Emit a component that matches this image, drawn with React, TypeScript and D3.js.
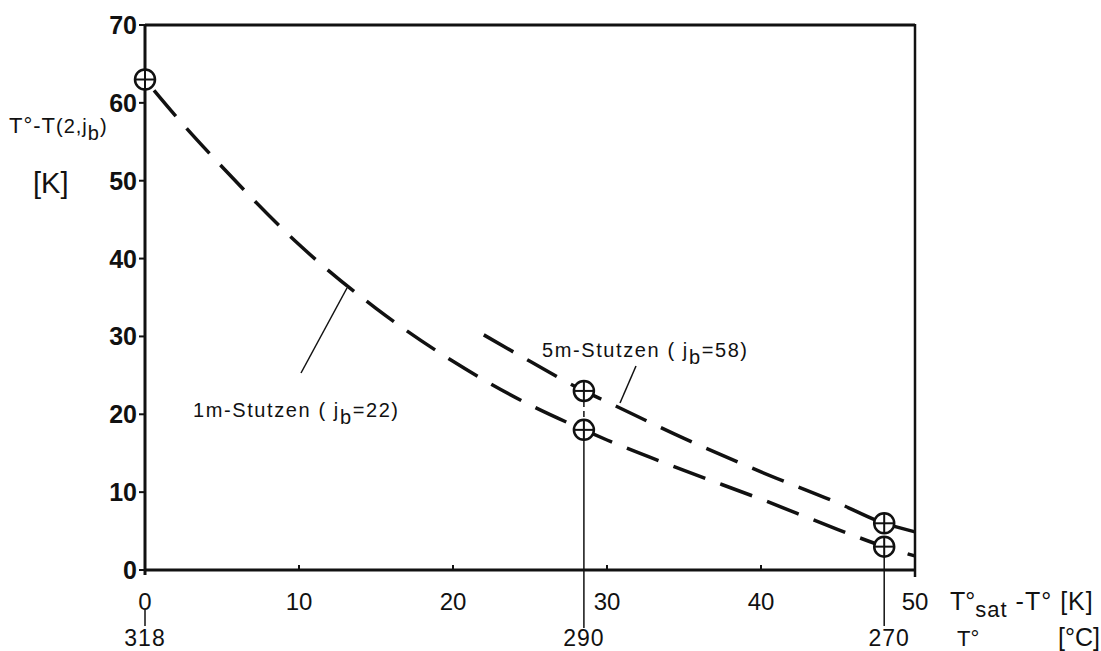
import React from "react";
import * as d3 from "d3";

const xTicks = [0, 10, 20, 30, 40, 50];
const yTicks = [0, 10, 20, 30, 40, 50, 60, 70];
const tempTicks = [
  { x: 0, label: "318" },
  { x: 28.5, label: "290" },
  { x: 48, label: "270" },
];
const series1m: [number, number][] = [
  [0, 63], [2, 58.3], [5, 51.8], [10, 41.8], [15, 33.6], [20, 26.8], [25, 21.2],
  [28.5, 18], [30, 16.7], [35, 12.8], [40, 9.1], [45, 5.2], [48, 3], [50, 1.8],
];
const series5m: [number, number][] = [
  [22, 30.2], [25, 26.8], [28.5, 23], [30, 21.6], [35, 16.9], [40, 12.6], [45, 8.6], [48, 6], [50, 4.9],
];
const markers: [number, number][] = [[0, 63], [28.5, 23], [28.5, 18], [48, 6], [48, 3]];

const W = 1101, H = 651;
const FONT = "'Liberation Sans', Arial, sans-serif";

export default function App() {
  const x = d3.scaleLinear().domain([0, 50]).range([145, 915]);
  const y = d3.scaleLinear().domain([0, 70]).range([570, 25]);
  const line = d3.line<[number, number]>().x(d => x(d[0])).y(d => y(d[1])).curve(d3.curveMonotoneX);
  const stroke = "#111";
  return (
    <svg width={W} height={H} style={{ position: "absolute", left: 0, top: 0, background: "#fff" }} fontFamily={FONT}>
      <rect width={W} height={H} fill="#fff" />
      {/* frame */}
      <line x1={x(0)} y1={y(70)} x2={x(50)} y2={y(70)} stroke={stroke} strokeWidth={3} />
      <line x1={x(0)} y1={y(70) - 1} x2={x(0)} y2={y(0) + 5} stroke={stroke} strokeWidth={3} />
      <line x1={x(50)} y1={y(70) - 1} x2={x(50)} y2={y(0) + 7} stroke={stroke} strokeWidth={2.5} />
      <line x1={x(0)} y1={y(0)} x2={x(50)} y2={y(0)} stroke={stroke} strokeWidth={3} />
      {/* y ticks */}
      {yTicks.map(t => (
        <g key={"y" + t}>
          <line x1={x(0) - 6} x2={x(0)} y1={y(t)} y2={y(t)} stroke={stroke} strokeWidth={2} />
          <text x={x(0) - 8} y={y(t)} dy="0.36em" textAnchor="end" fontSize={25} fontWeight={700} fill={stroke}>{t}</text>
        </g>
      ))}
      {/* x ticks */}
      {xTicks.map(t => (
        <g key={"x" + t}>
          {t > 0 && t < 50 && <line x1={x(t)} x2={x(t)} y1={y(0) - 5} y2={y(0)} stroke={stroke} strokeWidth={2} />}
          <text x={x(t)} y={y(0) + 40} textAnchor="middle" fontSize={24} fill={stroke}>{t}</text>
        </g>
      ))}
      {/* temperature ticks */}
      {tempTicks.map(t => (
        <g key={"t" + t.label}>
          <text x={x(t.x) + (t.x === 48 ? 5 : 0)} y={646} textAnchor="middle" fontSize={23} letterSpacing={1} fill={stroke}>{t.label}</text>
        </g>
      ))}
      <line x1={x(0)} x2={x(0)} y1={610} y2={626} stroke={stroke} strokeWidth={1.5} />
      <line x1={x(28.5)} x2={x(28.5)} y1={y(18) + 10} y2={628} stroke={stroke} strokeWidth={1.5} />
      <line x1={x(28.5)} x2={x(28.5)} y1={y(23) + 10} y2={y(18) - 10} stroke={stroke} strokeWidth={1.5} strokeDasharray="6 4" />
      <line x1={x(48)} x2={x(48)} y1={y(3) + 10} y2={626} stroke={stroke} strokeWidth={1.5} />
      {/* curves */}
      <path d={line(series1m) || ""} fill="none" stroke={stroke} strokeWidth={3.5} strokeDasharray="34 16" strokeDashoffset={-14} />
      <path d={line(series5m) || ""} fill="none" stroke={stroke} strokeWidth={3.5} strokeDasharray="34 16" />
      {/* markers */}
      {markers.map((m, i) => (
        <g key={"m" + i}>
          <circle cx={x(m[0])} cy={y(m[1])} r={10} fill="#fff" stroke={stroke} strokeWidth={2.5} />
          <line x1={x(m[0]) - 10} x2={x(m[0]) + 10} y1={y(m[1])} y2={y(m[1])} stroke={stroke} strokeWidth={2} />
          <line x1={x(m[0])} x2={x(m[0])} y1={y(m[1]) - 10} y2={y(m[1]) + 10} stroke={stroke} strokeWidth={2} />
        </g>
      ))}
      {/* annotation leaders */}
      <line x1={301} y1={373} x2={347} y2={288} stroke={stroke} strokeWidth={1.5} />
      <line x1={620} y1={403} x2={636} y2={366} stroke={stroke} strokeWidth={1.5} />
      <text x={193} y={417} fontSize={20} fill={stroke} letterSpacing={1.6}>
        1m-Stutzen ( j<tspan dy={7}>b</tspan><tspan dy={-7}>=22)</tspan>
      </text>
      <text x={542} y={357} fontSize={20} fill={stroke} letterSpacing={1.6}>
        5m-Stutzen ( j<tspan dy={7}>b</tspan><tspan dy={-7}>=58)</tspan>
      </text>
      {/* y label */}
      <text x={9} y={133} fontSize={22} fill={stroke} letterSpacing={1}>
        T°-T<tspan fontSize={20}>(2,j</tspan><tspan fontSize={20} dy={7}>b</tspan><tspan fontSize={20} dy={-7}>)</tspan>
      </text>
      <text x={33} y={193} fontSize={29} fill={stroke}>[K]</text>
      {/* x labels */}
      <text x={950} y={610} fontSize={25} fill={stroke}>
        T°<tspan fontSize={22} dy={7} letterSpacing={1}>sat</tspan><tspan dy={-7} letterSpacing={1}> -T° [K]</tspan>
      </text>
      <text x={957} y={646} fontSize={22} fill={stroke}>T°</text>
      <text x={1058} y={646} fontSize={25} fill={stroke}>[°C]</text>
    </svg>
  );
}
